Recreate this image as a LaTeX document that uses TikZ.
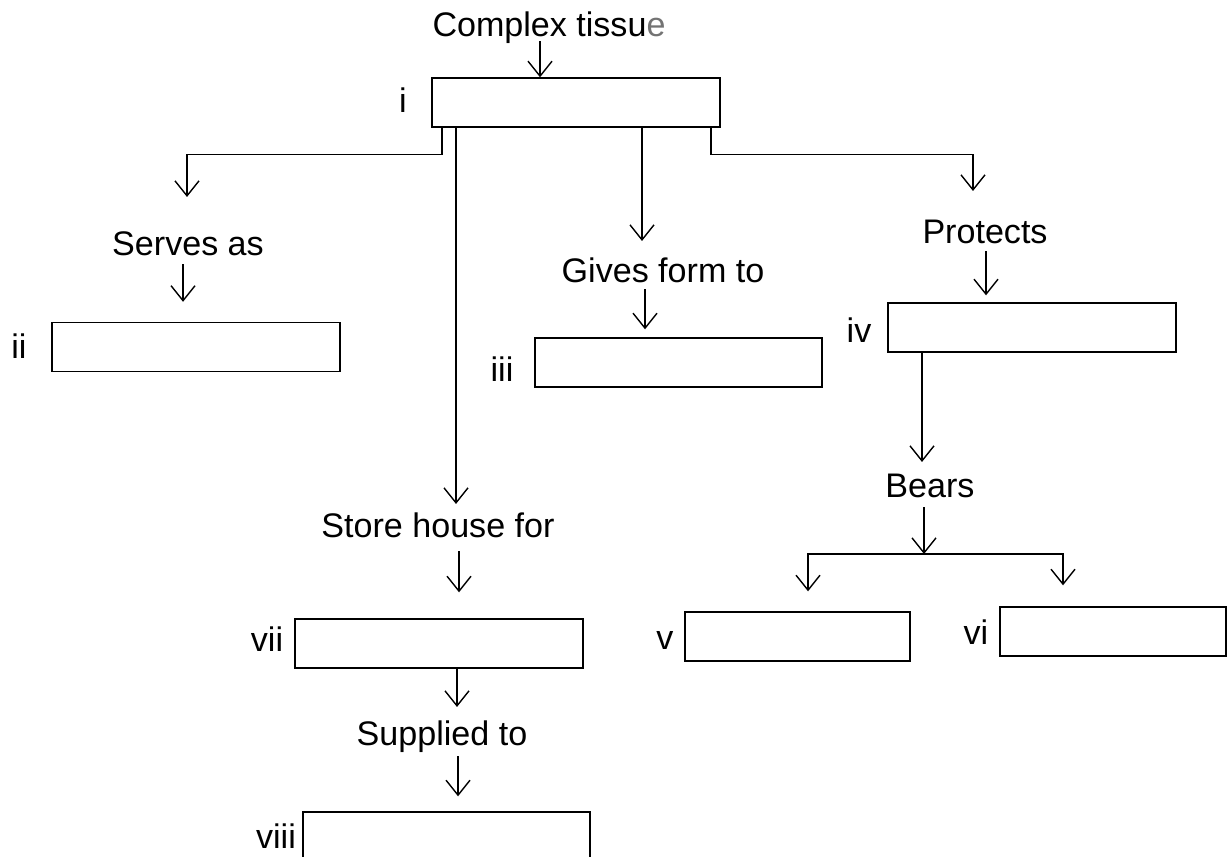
\documentclass[tikz,border=0pt]{standalone}
\usepackage{fontspec}
\setmainfont{Liberation Sans}
\usetikzlibrary{arrows.meta}

\tikzset{
  dn/.style={-{Straight Barb[length=0.3cm,width=0.48cm]}},
  blank/.style={draw,inner sep=0pt,minimum height=0.98cm},
  word/.style={inner sep=0pt,text height=0.75em,text depth=0.2em,font=\fontsize{19.4}{23}\selectfont}
}

\begin{document}
\begin{tikzpicture}[x=0.02cm,y=-0.02cm,line width=0.8pt]
\useasboundingbox (0,0) rectangle (1227,856);

% empty boxes
\node[blank,minimum width=5.76cm] (boxi)    at (576,102.5) {};
\node[blank,minimum width=5.76cm] (boxii)   at (196,347)   {};
\node[blank,minimum width=5.74cm] (boxiii)  at (678.5,362.5) {};
\node[blank,minimum width=5.76cm] (boxiv)   at (1032,327.5) {};
\node[blank,minimum width=4.5cm]  (boxv)    at (797.5,636.5) {};
\node[blank,minimum width=4.52cm] (boxvi)   at (1113,631.5) {};
\node[blank,minimum width=5.76cm] (boxvii)  at (439,643.5) {};
\node[blank,minimum width=5.74cm] (boxviii) at (446.5,836.5) {};

% roman labels
\node[word] (lbli)    at (403,108) {i};
\node[word] (lblii)   at (19,354)  {ii};
\node[word] (lbliii)  at (502,377) {iii};
\node[word] (lbliv)   at (859,338) {iv};
\node[word] (lblv)    at (665,645) {v};
\node[word] (lblvi)   at (976,640) {vi};
\node[word] (lblvii)  at (267,647) {vii};
\node[word] (lblviii) at (276,844) {viii};

% words
\node[word] (ctis)     at (549,32)  {Complex tissu{\color{black!55}e}};
\node[word] (serves)   at (188,251) {Serves as};
\node[word] (gives)    at (663,278) {Gives form to};
\node[word] (protects) at (985,239) {Protects};
\node[word] (bears)    at (930,493) {Bears};
\node[word] (store)    at (438,533) {Store house for};
\node[word] (supplied) at (442,741) {Supplied to};

% top
\draw[dn] (ctis.south -| 540,0) -- (540,0 |- boxi.north);

% left branch
\draw[dn,shorten >=0.9cm] (boxi.south -| 442,0) -- ++(0,27) -| (187,0 |- serves.north);
\draw[dn,shorten <=0.08cm,shorten >=0.4cm] (serves.south -| 183,0) -- (183,0 |- boxii.north);

% middle branches
\draw[dn,shorten >=0.56cm] (boxi.south -| 642,0) -- (642,0 |- gives.north);
\draw[dn,shorten <=0.04cm,shorten >=0.16cm] (gives.south -| 645,0) -- (645,0 |- boxiii.north);
\draw[dn,shorten >=0.4cm] (boxi.south -| 456,0) -- (456,0 |- store.north);
\draw[dn,shorten <=0.18cm,shorten >=0.52cm] (store.south -| 459,0) -- (459,0 |- boxvii.north);
\draw[dn,shorten >=0.5cm] (boxvii.south -| 457,0) -- (457,0 |- supplied.north);
\draw[dn,shorten <=0.12cm,shorten >=0.3cm] (supplied.south -| 458,0) -- (458,0 |- boxviii.north);

% right branch
\draw[dn,shorten >=0.78cm] (boxi.south -| 711,0) -- ++(0,27) -| (973,0 |- protects.north);
\draw[dn,shorten <=0.06cm,shorten >=0.14cm] (protects.south -| 986,0) -- (986,0 |- boxiv.north);
\draw[dn,shorten >=0.44cm] (boxiv.south -| 922,0) -- (922,0 |- bears.north);

% fork
\coordinate (fork) at (924,554);
\draw[dn,shorten <=0.1cm] (bears.south -| fork) -- (fork);
\draw[dn,shorten >=0.4cm] (fork) -| (808,0 |- boxv.north);
\draw[dn,shorten >=0.42cm] (fork) -| (1063,0 |- boxvi.north);

\end{tikzpicture}
\end{document}
